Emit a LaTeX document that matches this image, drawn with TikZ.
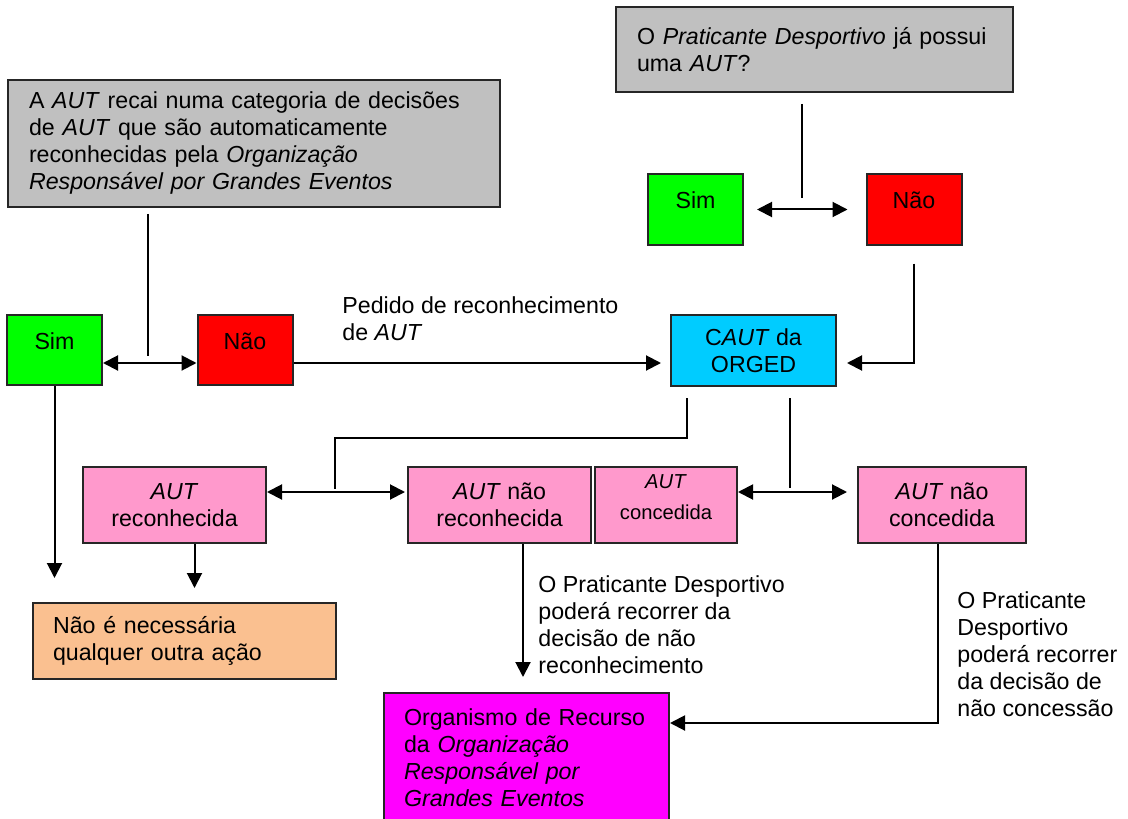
\documentclass[tikz,border=0pt]{standalone}
\usepackage{fontspec}
\setmainfont{Liberation Sans}
\usepackage{xcolor}
\usepackage{tikz}
\usetikzlibrary{arrows.meta}
\usetikzlibrary{calc}

\definecolor{qgray}{HTML}{C0C0C0}
\definecolor{simgreen}{HTML}{00FF00}
\definecolor{naored}{HTML}{FF0000}
\definecolor{cautblue}{HTML}{00CCFF}
\definecolor{autpink}{HTML}{FF99CC}
\definecolor{nadaorange}{HTML}{FAC090}
\definecolor{recmagenta}{HTML}{FF00FF}

\begin{document}
\begin{tikzpicture} [x=0.5pt, y=-0.5pt,
                every node/.style = {font=\fontsize{11.6}{13.5}\selectfont},
                flowbox/.style = {draw=black!85, line width=1pt},
                qbox/.style = {flowbox, fill=qgray, align=left, inner xsep=10.5pt},
                colbox/.style = {flowbox, minimum width=47.5pt, text height=17pt, text depth=18pt, inner ysep=0pt},
                autbox/.style = {flowbox, fill=autpink, align=center, minimum height=38pt},
                txt/.style = {inner sep=0pt, anchor=west, align=left},
                con/.style = {line width=1pt},
                arr/.style = {con, -{Triangle[length=7.5pt,width=7.5pt]}},
                dbl/.style = {con, {Triangle[length=7.5pt,width=7.5pt]}-{Triangle[length=7.5pt,width=7.5pt]}}
            ]
            \useasboundingbox (0,0) rectangle (1128,818);
            \clip (0,0) rectangle (1128,818);
            \node (qtop) at (814.5,49.5) [qbox, text width=177.5pt, minimum height=42.5pt] {O \textit{Praticante Desportivo} já possui\\uma \textit{AUT}?};
            \node (qleft) at (254,143.5) [qbox, text width=225pt, minimum height=63.5pt] {A \textit{AUT} recai numa categoria de decisões\\de \textit{AUT} que são automaticamente\\reconhecidas pela \textit{Organização}\\\textit{Responsável por Grandes Eventos}};
            \node (simB) at (695.5,209.5) [colbox, fill=simgreen] {Sim};
            \node (naoB) at (914,209.5) [colbox, fill=naored] {Não};
            \node (simA) at (54.5,350) [colbox, fill=simgreen] {Sim};
            \node (naoA) at (245,350) [colbox, fill=naored] {Não};
            \node (caut) at (753.5,350.5) [flowbox, fill=cautblue, align=center, minimum width=82.5pt, minimum height=35.5pt] {C\textit{AUT} da\\ORGED};
            \node (aRec) at (174.5,505) [autbox, minimum width=91.5pt] {\textit{AUT}\\reconhecida};
            \node (aNRec) at (499.5,505) [autbox, minimum width=91.5pt] {\textit{AUT} não\\reconhecida};
            \node (aCon) at (666,505) [autbox, minimum width=71pt, inner ysep=0pt, text depth=8pt, font=\fontsize{10.1}{15.5}\selectfont] {\textit{AUT}\\concedida};
            \node (aNCon) at (942,505) [autbox, minimum width=84pt] {\textit{AUT} não\\concedida};
            \node (nada) at (32,602) [flowbox, fill=nadaorange, anchor=north west, align=left, text width=131.5pt, inner xsep=10pt, minimum height=38pt] {Não é necessária\\qualquer outra ação};
            \node (recurso) at (383,692) [flowbox, fill=recmagenta, anchor=north west, align=left, text width=122.5pt, inner xsep=10pt, inner ysep=8pt] {Organismo de Recurso\\da \textit{Organização}\\\textit{Responsável por}\\\textit{Grandes Eventos}};
            \node (lblPed) at (342,318.5) [txt] {Pedido de reconhecimento\\de \textit{AUT}};
            \node (lblRec) at (538,625) [txt] {O Praticante Desportivo\\poderá recorrer da\\decisão de não\\reconhecimento};
            \node (lblCon) at (957,654) [txt] {O Praticante\\Desportivo\\poderá recorrer\\da decisão de\\não concessão};
            \coordinate (jTop) at (802,212);
            \coordinate (jLeft) at (148,363);
            \coordinate (jRec) at (335,492);
            \coordinate (jCon) at (790,492);
            \draw [con] ([yshift=-5.5pt] qtop.south -| jTop) -- ([yshift=7pt] jTop);
            \draw [dbl, shorten <=6.5pt, shorten >=9pt] (simB.east) -- (naoB.west);
            \draw [arr, shorten >=5pt] ([yshift=-9pt] naoB.south) |- ([yshift=-6.25pt] caut.east);
            \draw [con] ([yshift=-3pt] qleft.south -| jLeft) -- ([yshift=3.5pt] jLeft);
            \draw [dbl] ([yshift=-6.5pt] simA.east) -- ([yshift=-6.5pt] naoA.west);
            \draw [arr, shorten >=4.5pt] ([yshift=-6.5pt] naoA.east) -- ([yshift=-6.25pt] caut.west);
            \draw [arr, shorten >=12pt] (simA.south) -- (simA.south |- nada.north);
            \draw [arr, shorten >=7pt] ([xshift=10pt] aRec.south) -- ([xshift=10pt] aRec.south |- nada.north);
            \draw [con] ([xshift=-33.25pt, yshift=-5.5pt] caut.south) -- ++(0,40) -| ([yshift=1.5pt] jRec);
            \draw [con] ([yshift=-5.5pt] caut.south -| jCon) -- ([yshift=2pt] jCon);
            \draw [dbl, shorten >=1pt] ([yshift=6.5pt] aRec.east) -- ([yshift=6.5pt] aNRec.west);
            \draw [dbl, shorten >=5pt] ([yshift=6.5pt] aCon.east) -- ([yshift=6.5pt] aNCon.west);
            \draw [arr, shorten >=7.5pt] ([xshift=11.75pt] aNRec.south) -- ([xshift=11.75pt] aNRec.south |- recurso.north);
            \draw [arr] ([xshift=-2pt] aNCon.south) |- ([yshift=-15.5pt] recurso.north east);
        \end{tikzpicture}
\end{document}
